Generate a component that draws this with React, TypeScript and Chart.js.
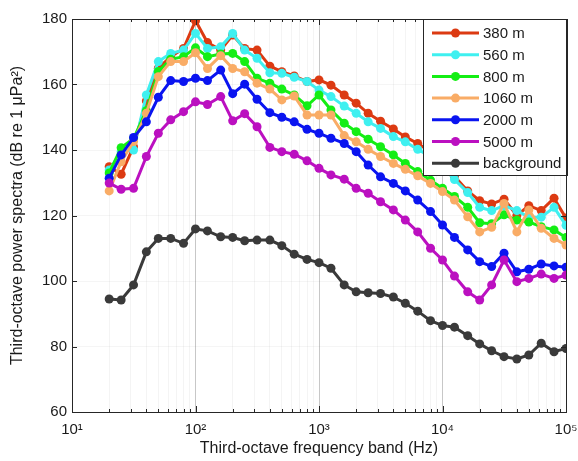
import React, { useEffect, useRef } from "react";
import { Chart, registerables } from "chart.js";

Chart.register(...registerables);

// Third-octave band centre frequencies (Hz)
const FREQS = [20, 25, 31.5, 40, 50, 63, 80, 100, 125, 160, 200, 250, 315, 400, 500, 630, 800, 1000, 1250, 1600, 2000, 2500, 3150, 4000, 5000, 6300, 8000, 10000, 12500, 16000, 20000, 25000, 31500, 40000, 50000, 63000, 80000, 100000];

const SERIES_LABELS = ["380 m", "560 m", "800 m", "1060 m", "2000 m", "5000 m", "background"];
const SERIES_COLORS = ["#dc3a12", "#3ff0f0", "#14ee14", "#f9ac66", "#0a14f0", "#bb10c0", "#3a3a3a"];

const S380 = [134.9, 132.6, 141, 155, 165, 168.5, 171, 179.5, 172.8, 170.5, 175.1, 171.0, 170.5, 165.6, 163.9, 162.6, 160.9, 161.4, 159.8, 156.8, 154.3, 151.2, 148.8, 146.4, 144.0, 142.0, 139.5, 136.5, 132, 127.5, 124.5, 123.5, 125, 120, 123, 121.5, 125.3, 119.2];
const S560 = [133.9, 139.5, 140.0, 156.8, 167.0, 169.5, 170.5, 175.6, 171.0, 171.5, 175.6, 170.5, 168.0, 163.6, 163.4, 162.2, 160.9, 158.3, 156.3, 153.4, 151.2, 148.6, 146.6, 144.1, 142.5, 140.2, 138, 135, 131, 127, 122.5, 121.5, 123, 121.5, 119.5, 119.5, 122.5, 117];
const S800 = [133, 140.7, 143.5, 152, 164, 167.7, 168.5, 171.2, 168.5, 169.3, 169.5, 167.0, 161.9, 160.4, 158.6, 156.8, 153.5, 156.8, 152.2, 148.2, 145.6, 143.3, 141.0, 138.5, 135.9, 133.4, 130.8, 128.3, 125.8, 122.5, 117.8, 117.5, 120.2, 118.6, 118, 116.6, 115.6, 113.3];
const S1060 = [127.5, 136.4, 142.6, 151.2, 162.4, 167.0, 167.0, 169.7, 164.9, 168.8, 164.9, 163.9, 160.4, 158.6, 155.3, 156.5, 150.7, 150.7, 150.7, 144.4, 142.5, 140.2, 138.0, 135.9, 134.1, 132.1, 129.8, 127.3, 124.7, 119.6, 115.0, 116.4, 123.7, 115.0, 121.7, 116.1, 113.0, 111.0];
const S2000 = [131.4, 138.5, 143.8, 148.6, 156.1, 161.2, 160.9, 161.9, 161.2, 164.4, 157.2, 160.1, 155.5, 151.4, 150.0, 148.6, 146.3, 145.1, 143.6, 142.0, 139.5, 135.4, 131.8, 129.8, 127.5, 124.7, 121.2, 117.1, 113.3, 109.5, 105.9, 104.4, 108.5, 102.8, 103.6, 105.2, 104.6, 104.2];
const S5000 = [129.9, 128.0, 128.3, 138.0, 145.1, 149.2, 151.7, 154.7, 153.9, 156.3, 148.9, 151.1, 147.1, 140.8, 139.5, 138.7, 136.7, 134.4, 132.4, 131.1, 128.3, 126.8, 124.2, 121.7, 118.6, 115.0, 110.0, 106.4, 101.5, 96.7, 94.2, 98.8, 106.4, 99.8, 100.8, 102.1, 100.8, 101.8];
const SBG = [94.5, 94.2, 98.8, 108.9, 113.0, 113.0, 111.5, 115.9, 115.3, 113.5, 113.3, 112.3, 112.5, 112.5, 110.8, 108.2, 106.6, 105.6, 103.9, 98.8, 96.7, 96.4, 96.2, 95.1, 93.2, 90.8, 87.9, 86.4, 85.9, 83.3, 80.8, 78.7, 76.9, 76.2, 77.4, 81.0, 78.4, 79.4];

const SERIES = [S380, S560, S800, S1060, S2000, S5000, SBG];

const Y_TICKS = [60, 80, 100, 120, 140, 160, 180];
const X_DECADES = [10, 100, 1000, 10000, 100000];
const X_DECADE_LABELS = ["10¹", "10²", "10³", "10⁴", "10⁵"];

const FONT = "'Liberation Sans', Arial, Helvetica, sans-serif";

function axisTickValues(): number[] {
  const out: number[] = [];
  for (let i = 0; i < X_DECADES.length - 1; i++) {
    for (let k = 1; k <= 9; k++) out.push(k * X_DECADES[i]);
  }
  out.push(X_DECADES[X_DECADES.length - 1]);
  return out;
}

const boxPlugin = {
  id: "matlabBox",
  afterDatasetsDraw(chart: any) {
    const { ctx, chartArea: a, scales } = chart;
    const x = scales.x;
    const y = scales.y;
    ctx.save();
    ctx.strokeStyle = "#262626";
    ctx.lineWidth = 1;
    // inner ticks on x
    x.ticks.forEach((t: any) => {
      const px = Math.round(x.getPixelForValue(t.value)) + 0.5;
      const major = X_DECADES.includes(t.value);
      const len = major ? 6 : 3;
      ctx.beginPath();
      ctx.moveTo(px, a.bottom);
      ctx.lineTo(px, a.bottom - len);
      ctx.moveTo(px, a.top);
      ctx.lineTo(px, a.top + len);
      ctx.stroke();
    });
    y.ticks.forEach((t: any) => {
      const py = Math.round(y.getPixelForValue(t.value)) + 0.5;
      ctx.beginPath();
      ctx.moveTo(a.left, py);
      ctx.lineTo(a.left + 5, py);
      ctx.moveTo(a.right, py);
      ctx.lineTo(a.right - 5, py);
      ctx.stroke();
    });

    // legend
    const lx = a.right - 143;
    const ly = a.top;
    const lw = 144;
    const lh = 156;
    ctx.fillStyle = "#ffffff";
    ctx.fillRect(lx, ly, lw, lh);
    ctx.strokeRect(Math.round(lx) + 0.5, Math.round(ly) + 0.5, lw, lh);
    const ds = chart.data.datasets;
    ds.forEach((d: any, i: number) => {
      const cy = ly + 14 + i * 21.7;
      ctx.strokeStyle = d.borderColor;
      ctx.lineWidth = 3;
      ctx.beginPath();
      ctx.moveTo(lx + 9, cy);
      ctx.lineTo(lx + 56, cy);
      ctx.stroke();
      ctx.fillStyle = d.borderColor;
      ctx.beginPath();
      ctx.arc(lx + 32.5, cy, 4.5, 0, Math.PI * 2);
      ctx.fill();
      ctx.fillStyle = "#1a1a1a";
      ctx.font = `15px ${FONT}`;
      ctx.textBaseline = "middle";
      ctx.textAlign = "left";
      ctx.fillText(d.label, lx + 60, cy + 1);
    });

    // axes box
    ctx.strokeStyle = "#262626";
    ctx.lineWidth = 1;
    ctx.strokeRect(Math.round(a.left) + 0.5, Math.round(a.top) + 0.5, Math.round(a.right - a.left), Math.round(a.bottom - a.top));
    ctx.restore();
  },
};

export default function App() {
  const ref = useRef<HTMLCanvasElement | null>(null);

  useEffect(() => {
    if (!ref.current) return;
    const n = SERIES.length;
    const chart = new Chart(ref.current, {
      type: "line",
      data: {
        datasets: SERIES.map((s, i) => ({
          label: SERIES_LABELS[i],
          data: FREQS.map((f, j) => ({ x: f, y: s[j] })),
          borderColor: SERIES_COLORS[i],
          backgroundColor: SERIES_COLORS[i],
          pointBackgroundColor: SERIES_COLORS[i],
          pointBorderColor: SERIES_COLORS[i],
          borderWidth: 3,
          pointRadius: 4.5,
          pointBorderWidth: 0,
          tension: 0,
          fill: false,
          order: n - i,
        })),
      },
      options: {
        responsive: false,
        animation: false,
        layout: { padding: { top: 19, right: 12, left: 0, bottom: 0 } },
        plugins: {
          legend: { display: false },
          tooltip: { enabled: false },
        },
        scales: {
          x: {
            type: "logarithmic",
            min: 10,
            max: 100000,
            afterBuildTicks: (scale: any) => {
              scale.ticks = axisTickValues().map((v) => ({ value: v }));
            },
            afterFit: (scale: any) => {
              scale.height = 49;
              scale.paddingLeft = 0;
              scale.paddingRight = 0;
            },
            grid: {
              drawTicks: false,
              color: (c: any) => {
                const v = c.tick ? c.tick.value : 0;
                if (v === 10 || v === 100000) return "rgba(0,0,0,0)";
                return X_DECADES.includes(v) ? "rgba(0,0,0,0.22)" : "rgba(0,0,0,0.045)";
              },
            },
            border: { display: false },
            ticks: {
              autoSkip: false,
              maxRotation: 0,
              padding: 9,
              color: "#1a1a1a",
              font: { family: FONT, size: 15 },
              callback: (v: any) => {
                const idx = X_DECADES.indexOf(Number(v));
                return idx >= 0 ? X_DECADE_LABELS[idx] : "";
              },
            },
            title: {
              display: true,
              text: "Third-octave frequency band (Hz)",
              color: "#1a1a1a",
              font: { family: FONT, size: 16 },
              padding: { top: 0, bottom: 3 },
            },
          },
          y: {
            min: 60,
            max: 180,
            afterBuildTicks: (scale: any) => {
              scale.ticks = Y_TICKS.map((v) => ({ value: v }));
            },
            afterFit: (scale: any) => {
              scale.width = 72;
              scale.paddingTop = 0;
              scale.paddingBottom = 0;
            },
            grid: {
              drawTicks: false,
              color: (c: any) => {
                const v = c.tick ? c.tick.value : 0;
                if (v === 60 || v === 180) return "rgba(0,0,0,0)";
                return "rgba(0,0,0,0.04)";
              },
            },
            border: { display: false },
            ticks: {
              padding: 5,
              color: "#1a1a1a",
              font: { family: FONT, size: 15 },
            },
            title: {
              display: true,
              text: "Third-octave power spectra (dB re 1 μPa²)",
              color: "#1a1a1a",
              font: { family: FONT, size: 16 },
              padding: { top: 8, bottom: 0 },
            },
          },
        },
      },
      plugins: [boxPlugin],
    } as any);
    return () => chart.destroy();
  }, []);

  return (
    <div style={{ position: "fixed", left: 0, top: 0, width: 578, height: 461, background: "#fff" }}>
      <canvas ref={ref} width={578} height={461} style={{ width: 578, height: 461, display: "block" }} />
    </div>
  );
}
